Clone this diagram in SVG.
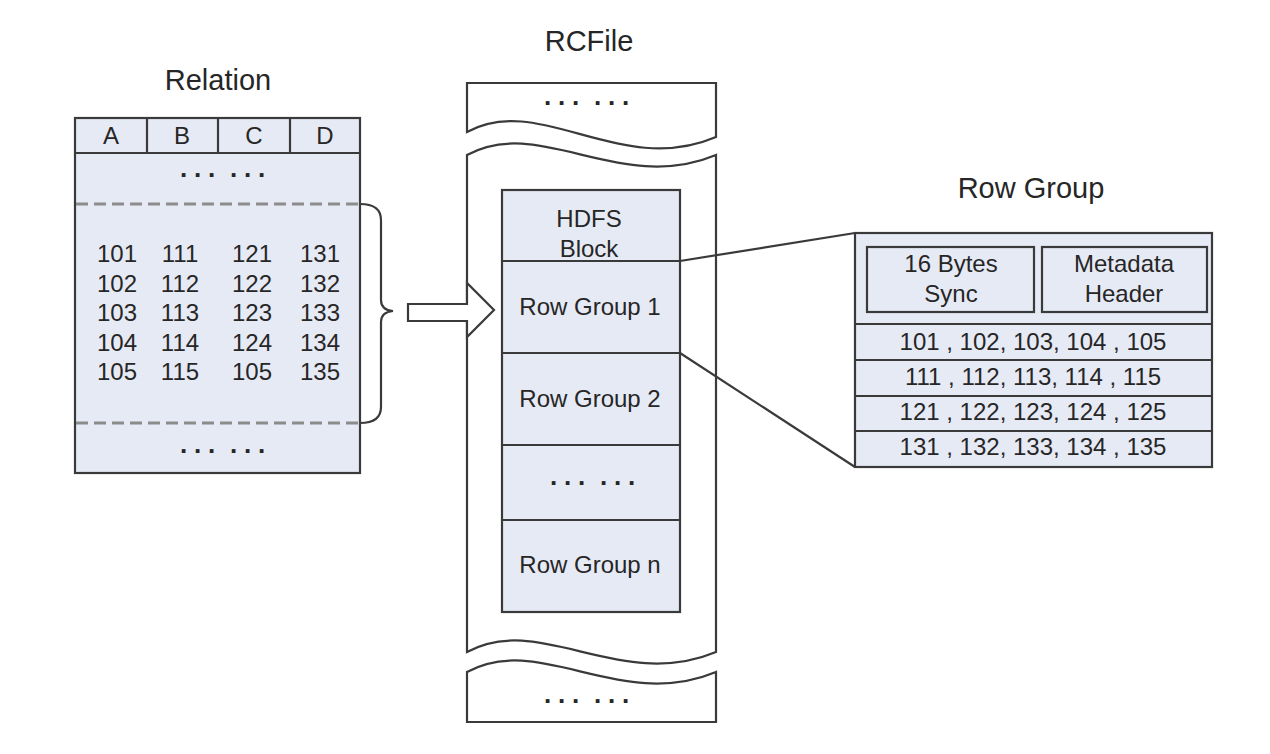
<svg xmlns="http://www.w3.org/2000/svg" width="1270" height="754" viewBox="0 0 1270 754">
<style>
text{font-family:"Liberation Sans",Arial,sans-serif;fill:#262626;text-anchor:middle}
.title{font-size:29px}
.t{font-size:24px}
.dots{font-size:26px;font-weight:bold;text-anchor:start}
.box{fill:#e6eaf5;stroke:#3a3a3a;stroke-width:2.2}
.white{fill:#ffffff;stroke:#3a3a3a;stroke-width:2.2}
.ln{fill:none;stroke:#3a3a3a;stroke-width:2.2}
.dash{fill:none;stroke:#8c8c8c;stroke-width:3;stroke-dasharray:12 6}
</style>
<rect width="1270" height="754" fill="#ffffff"/>

<g id="relation">
<text class="title" x="218" y="90">Relation</text>
<rect class="box" x="75" y="118" width="285" height="355"/>
<line class="ln" x1="75" y1="153" x2="360" y2="153"/>
<line class="ln" x1="147" y1="118" x2="147" y2="153"/>
<line class="ln" x1="218" y1="118" x2="218" y2="153"/>
<line class="ln" x1="290" y1="118" x2="290" y2="153"/>
<text class="t" x="111" y="144">A</text>
<text class="t" x="182" y="144">B</text>
<text class="t" x="254" y="144">C</text>
<text class="t" x="325" y="144">D</text>
<text class="dots" x="180 194 208 218 230 244 258" y="177">... ...</text>
<line class="dash" x1="76" y1="204" x2="360" y2="204"/>
<line class="dash" x1="76" y1="423" x2="360" y2="423"/>
<g class="t">
<text x="117" y="262">101</text><text x="180" y="262">111</text><text x="252" y="262">121</text><text x="320" y="262">131</text>
<text x="117" y="292">102</text><text x="180" y="292">112</text><text x="252" y="292">122</text><text x="320" y="292">132</text>
<text x="117" y="321">103</text><text x="180" y="321">113</text><text x="252" y="321">123</text><text x="320" y="321">133</text>
<text x="117" y="351">104</text><text x="180" y="351">114</text><text x="252" y="351">124</text><text x="320" y="351">134</text>
<text x="117" y="380">105</text><text x="180" y="380">115</text><text x="252" y="380">105</text><text x="320" y="380">135</text>
</g>
<text class="dots" x="180 194 208 218 230 244 258" y="453">... ...</text>
<path class="ln" d="M360,204 Q381,204 381,220 L381,300 Q381,310 393,311 Q381,312 381,322 L381,407 Q381,423 360,423"/>
</g>

<g id="rcfile">
<text class="title" x="589" y="51">RCFile</text>
<path class="white" d="M467,83 L716,83 L716,137 C620,178 540,92 467,132 Z"/>
<text class="dots" x="544 558 572 582 594 608 622" y="105">... ...</text>
<path class="white" d="M467,155 C540,115 620,195 716,155 L716,652 C620,692 540,612 467,652 Z"/>
<path class="white" d="M467,672 C540,632 620,712 716,672 L716,722 L467,722 Z"/>
<text class="dots" x="544 558 572 582 594 608 622" y="703">... ...</text>
</g>

<g id="blocks">
<rect class="box" x="502" y="190" width="178" height="422"/>
<line class="ln" x1="502" y1="261" x2="680" y2="261"/>
<line class="ln" x1="502" y1="353" x2="680" y2="353"/>
<line class="ln" x1="502" y1="445" x2="680" y2="445"/>
<line class="ln" x1="502" y1="520" x2="680" y2="520"/>
<text class="t" x="589" y="227">HDFS</text>
<text class="t" x="589" y="257">Block</text>
<text class="t" x="590" y="315">Row Group 1</text>
<text class="t" x="590" y="407">Row Group 2</text>
<text class="dots" x="550 564 578 588 600 614 628" y="485">... ...</text>
<text class="t" x="590" y="573">Row Group n</text>
</g>

<g id="arrow">
<path class="white" d="M408,304 L467,304 L467,283 L494,310 L467,337 L467,321 L408,321 Z"/>
</g>

<g id="rowgroup">
<text class="title" x="1031" y="198">Row Group</text>
<rect class="box" x="855" y="233" width="357" height="234"/>
<rect class="box" x="867" y="247" width="167" height="65"/>
<rect class="box" x="1042" y="247" width="165" height="65"/>
<text class="t" x="951" y="272">16 Bytes</text>
<text class="t" x="951" y="302">Sync</text>
<text class="t" x="1124" y="272">Metadata</text>
<text class="t" x="1124" y="302">Header</text>
<line class="ln" x1="855" y1="324" x2="1212" y2="324"/>
<line class="ln" x1="855" y1="360" x2="1212" y2="360"/>
<line class="ln" x1="855" y1="396" x2="1212" y2="396"/>
<line class="ln" x1="855" y1="431" x2="1212" y2="431"/>
<text class="t" x="1033" y="350">101 , 102, 103, 104 , 105</text>
<text class="t" x="1033" y="385">111 , 112, 113, 114 , 115</text>
<text class="t" x="1033" y="420">121 , 122, 123, 124 , 125</text>
<text class="t" x="1033" y="455">131 , 132, 133, 134 , 135</text>
</g>

<g id="connectors">
<line class="ln" x1="680" y1="261" x2="855" y2="233"/>
<line class="ln" x1="680" y1="353" x2="855" y2="467"/>
</g>
</svg>
